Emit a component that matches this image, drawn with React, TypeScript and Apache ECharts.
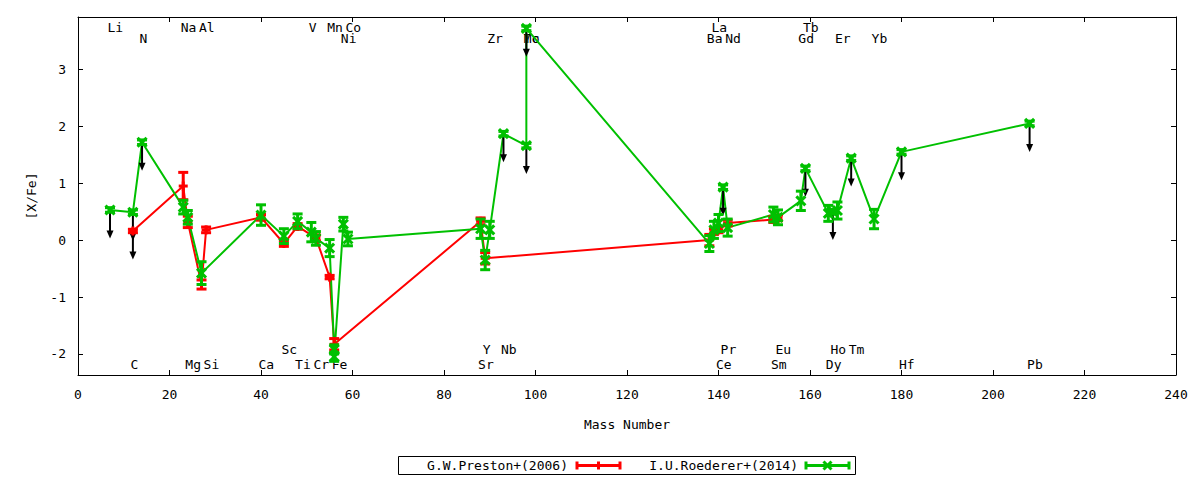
import React, { useEffect, useRef } from "react";
import * as echarts from "echarts";

// ---- Data: G.W.Preston+(2006) ----
const prestonMass = [12, 23, 24, 27, 28, 40, 45, 48, 52, 55, 56, 88, 89, 138, 139, 140, 142, 152, 153];
const prestonXFe = [0.16, 0.95, 0.32, -0.78, 0.18, 0.4, -0.06, 0.24, 0.04, -0.65, -1.83, 0.33, -0.32, 0.0, 0.15, 0.18, 0.3, 0.36, 0.39];
const prestonErr = [0.03, 0.24, 0.1, 0.08, 0.05, 0.05, 0.05, 0.05, 0.05, 0.03, 0.1, 0.06, 0.1, 0.1, 0.05, 0.05, 0.05, 0.05, 0.05];
const prestonLimit = [1, 0, 0, 0, 0, 0, 0, 0, 0, 0, 0, 0, 0, 0, 0, 0, 0, 0, 0];

// ---- Data: I.U.Roederer+(2014) ----
const roedererMass = [7, 12, 14, 23, 24, 27, 40, 45, 48, 51, 52, 55, 56, 56, 58, 59, 88, 89, 90, 93, 98, 98, 138, 139, 140, 141, 142, 152, 153, 158, 159, 164, 165, 166, 169, 174, 180, 208];
const roedererXFe = [0.53, 0.49, 1.72, 0.58, 0.4, -0.58, 0.44, 0.07, 0.33, 0.14, 0.03, -0.14, -1.92, -2.05, 0.28, 0.02, 0.2, -0.35, 0.18, 1.87, 1.66, 3.72, -0.06, 0.18, 0.3, 0.93, 0.22, 0.45, 0.4, 0.69, 1.26, 0.47, 0.5, 0.52, 1.44, 0.37, 1.55, 2.05];
const roedererErr = [0.04, 0.04, 0.04, 0.12, 0.12, 0.2, 0.18, 0.13, 0.13, 0.17, 0.12, 0.15, 0.08, 0.08, 0.12, 0.12, 0.17, 0.17, 0.15, 0.04, 0.04, 0.04, 0.14, 0.15, 0.15, 0.04, 0.15, 0.13, 0.13, 0.17, 0.04, 0.14, 0.04, 0.15, 0.04, 0.17, 0.04, 0.04];
const roedererLimit = [1, 1, 1, 0, 0, 0, 0, 0, 0, 0, 0, 0, 0, 0, 0, 0, 0, 0, 0, 1, 1, 1, 0, 0, 0, 1, 0, 0, 0, 0, 1, 0, 1, 0, 1, 0, 1, 1];

// ---- Element labels ----
const elementNames = ["Li", "C", "N", "Na", "Mg", "Al", "Si", "Ca", "Sc", "Ti", "V", "Cr", "Mn", "Fe", "Co", "Ni", "Sr", "Y", "Zr", "Nb", "Mo", "Tc", "Ba", "La", "Ce", "Pr", "Nd", "Sm", "Eu", "Gd", "Tb", "Dy", "Ho", "Er", "Tm", "Yb", "Hf", "Pb"];
const elementMass = [7, 12, 14, 23, 24, 27, 28, 40, 45, 48, 51, 52, 55, 56, 59, 58, 88, 89, 90, 93, 98, 98, 138, 139, 140, 141, 142, 152, 153, 158, 159, 164, 165, 166, 169, 174, 180, 208];
// label rows (in [X/Fe] units): upper rows 3.73 / 3.55, lower rows -1.92 / -2.18
const elementRowY = [3.73, -2.18, 3.55, 3.73, -2.18, 3.73, -2.18, -2.18, -1.92, -2.18, 3.73, -2.18, 3.73, -2.18, 3.73, 3.55, -2.18, -1.92, 3.55, -1.92, 3.55, 3.55, 3.55, 3.73, -2.18, -1.92, 3.55, -2.18, -1.92, 3.55, 3.73, -2.18, -1.92, 3.55, -1.92, 3.55, -2.18, -2.18];

const xTicks = { min: 0, max: 240, interval: 20 };
const yTickValues = [-2, -1, 0, 1, 2, 3];
const yRange = { min: -2.37, max: 3.92 };
const limitArrowLength = 0.5;

const legendNames = ["G.W.Preston+(2006)", "I.U.Roederer+(2014)"];

const RED = "#ff0000";
const GREEN = "#00c000";
const FONT = "DejaVu Sans Mono";

function errRender(color: string, marker: "plus" | "cross") {
  return (_params: any, api: any) => {
    const x = api.value(0);
    const v = api.value(1);
    const e = api.value(2);
    const c = api.coord([x, v]);
    const t = api.coord([x, v + e]);
    const b = api.coord([x, v - e]);
    const cap = 5;
    const m = 4.5;
    const st = { stroke: color, lineWidth: 3 };
    const children: any[] = [
      { type: "line", shape: { x1: c[0], y1: t[1], x2: c[0], y2: b[1] }, style: st },
      { type: "line", shape: { x1: c[0] - cap, y1: t[1], x2: c[0] + cap, y2: t[1] }, style: st },
      { type: "line", shape: { x1: c[0] - cap, y1: b[1], x2: c[0] + cap, y2: b[1] }, style: st },
    ];
    if (marker === "plus") {
      children.push({ type: "line", shape: { x1: c[0] - m, y1: c[1], x2: c[0] + m, y2: c[1] }, style: st });
      children.push({ type: "line", shape: { x1: c[0], y1: c[1] - m, x2: c[0], y2: c[1] + m }, style: st });
    } else {
      children.push({ type: "line", shape: { x1: c[0] - m, y1: c[1] - m, x2: c[0] + m, y2: c[1] + m }, style: st });
      children.push({ type: "line", shape: { x1: c[0] - m, y1: c[1] + m, x2: c[0] + m, y2: c[1] - m }, style: st });
    }
    return { type: "group", children };
  };
}

function arrowRender(_params: any, api: any) {
  const x = api.value(0);
  const v = api.value(1);
  const a = api.coord([x, v]);
  const b = api.coord([x, v - limitArrowLength]);
  return {
    type: "group",
    children: [
      { type: "line", shape: { x1: a[0], y1: a[1], x2: b[0], y2: b[1] - 6 }, style: { stroke: "#000", lineWidth: 2 } },
      {
        type: "polygon",
        shape: { points: [[b[0] - 3.5, b[1] - 8], [b[0] + 3.5, b[1] - 8], [b[0], b[1]]] },
        style: { fill: "#000" },
      },
    ],
  };
}

function labelRender(_params: any, api: any) {
  const x = api.value(0);
  const y = api.value(1);
  const p = api.coord([x, y]);
  return {
    type: "text",
    x: p[0] - 2.5,
    y: p[1],
    style: {
      text: elementNames[_params.dataIndex],
      textAlign: "left",
      textVerticalAlign: "middle",
      fill: "#000",
      font: `13px '${FONT}'`,
    },
  };
}

function legendGraphic() {
  const y = 465.5;
  const items: any[] = [
    { type: "rect", shape: { x: 398.5, y: 456.5, width: 457, height: 18 }, style: { fill: "none", stroke: "#000", lineWidth: 1 } },
  ];
  const entries = [
    { name: legendNames[0], right: 568, x1: 577, x2: 620, color: RED, marker: "plus" },
    { name: legendNames[1], right: 798, x1: 806, x2: 849, color: GREEN, marker: "cross" },
  ];
  entries.forEach((en) => {
    const st = { stroke: en.color, lineWidth: 3 };
    const mx = (en.x1 + en.x2) / 2;
    items.push({ type: "text", x: en.right, y, style: { text: en.name, textAlign: "right", textVerticalAlign: "middle", fill: "#000", font: `13px '${FONT}'` } });
    items.push({ type: "line", shape: { x1: en.x1, y1: y, x2: en.x2, y2: y }, style: st });
    items.push({ type: "line", shape: { x1: en.x1, y1: y - 4, x2: en.x1, y2: y + 4 }, style: st });
    items.push({ type: "line", shape: { x1: en.x2, y1: y - 4, x2: en.x2, y2: y + 4 }, style: st });
    if (en.marker === "plus") {
      items.push({ type: "line", shape: { x1: mx, y1: y - 4, x2: mx, y2: y + 4 }, style: st });
    } else {
      items.push({ type: "line", shape: { x1: mx - 4, y1: y - 4, x2: mx + 4, y2: y + 4 }, style: st });
      items.push({ type: "line", shape: { x1: mx - 4, y1: y + 4, x2: mx + 4, y2: y - 4 }, style: st });
    }
  });
  return items;
}

export default function App() {
  const ref = useRef<HTMLDivElement>(null);
  useEffect(() => {
    if (!ref.current) return;
    const chart = echarts.init(ref.current, undefined, { renderer: "svg" });

    const redLine = prestonMass.map((m, i) => [m, prestonXFe[i]]);
    const redErr = prestonMass.map((m, i) => [m, prestonXFe[i], prestonErr[i]]);
    const greenLine = roedererMass.map((m, i) => [m, roedererXFe[i]]);
    const greenErr = roedererMass.map((m, i) => [m, roedererXFe[i], roedererErr[i]]);
    const limits = [
      ...prestonMass.map((m, i) => [m, prestonXFe[i], prestonLimit[i]]),
      ...roedererMass.map((m, i) => [m, roedererXFe[i], roedererLimit[i]]),
    ].filter((d) => d[2] === 1);
    const labels = elementMass.map((m, i) => [m, elementRowY[i]]);

    const axisCommon = {
      axisLine: { show: true, onZero: false, lineStyle: { color: "#000", width: 1 } },
      splitLine: { show: false },
    };

    chart.setOption({
      animation: false,
      backgroundColor: "#fff",
      textStyle: { fontFamily: FONT, color: "#000" },
      grid: { left: 78, right: 24, top: 17, bottom: 105, containLabel: false },
      xAxis: [
        {
          type: "value",
          min: xTicks.min,
          max: xTicks.max,
          interval: xTicks.interval,
          position: "bottom",
          ...axisCommon,
          axisTick: { show: true, inside: true, length: 5, lineStyle: { color: "#000" } },
          axisLabel: { color: "#000", fontFamily: FONT, fontSize: 13, margin: 13 },
          name: "Mass Number",
          nameLocation: "middle",
          nameGap: 43,
          nameTextStyle: { color: "#000", fontFamily: FONT, fontSize: 13 },
        },
        {
          type: "value",
          min: xTicks.min,
          max: xTicks.max,
          interval: xTicks.interval,
          position: "top",
          ...axisCommon,
          axisTick: { show: true, inside: true, length: 5, lineStyle: { color: "#000" } },
          axisLabel: { show: false },
        },
      ],
      yAxis: [
        {
          type: "value",
          min: yRange.min,
          max: yRange.max,
          position: "left",
          ...axisCommon,
          axisTick: { show: true, inside: true, length: 5, customValues: yTickValues, lineStyle: { color: "#000" } },
          axisLabel: { color: "#000", fontFamily: FONT, fontSize: 13, margin: 12, customValues: yTickValues },
          name: "[X/Fe]",
          nameLocation: "middle",
          nameGap: 40,
          nameRotate: 90,
          nameTextStyle: { color: "#000", fontFamily: FONT, fontSize: 13 },
        },
        {
          type: "value",
          min: yRange.min,
          max: yRange.max,
          position: "right",
          ...axisCommon,
          axisTick: { show: true, inside: true, length: 5, customValues: yTickValues, lineStyle: { color: "#000" } },
          axisLabel: { show: false, customValues: yTickValues },
        },
      ],
      series: [
        {
          type: "custom",
          name: "labels",
          xAxisIndex: 0,
          yAxisIndex: 0,
          data: labels,
          encode: { x: 0, y: 1 },
          renderItem: labelRender,
          silent: true,
          z: 1,
        },
        {
          type: "line",
          name: legendNames[0],
          data: redLine,
          xAxisIndex: 0,
          yAxisIndex: 0,
          symbol: "none",
          lineStyle: { color: RED, width: 2 },
          z: 2,
        },
        {
          type: "line",
          name: legendNames[1],
          data: greenLine,
          xAxisIndex: 0,
          yAxisIndex: 0,
          symbol: "none",
          lineStyle: { color: GREEN, width: 2 },
          z: 3,
        },
        {
          type: "custom",
          name: "limits",
          xAxisIndex: 0,
          yAxisIndex: 0,
          data: limits,
          encode: { x: 0, y: 1 },
          renderItem: arrowRender,
          z: 4,
        },
        {
          type: "custom",
          name: "preston-err",
          xAxisIndex: 0,
          yAxisIndex: 0,
          data: redErr,
          encode: { x: 0, y: 1 },
          renderItem: errRender(RED, "plus"),
          z: 5,
        },
        {
          type: "custom",
          name: "roederer-err",
          xAxisIndex: 0,
          yAxisIndex: 0,
          data: greenErr,
          encode: { x: 0, y: 1 },
          renderItem: errRender(GREEN, "cross"),
          z: 6,
        },
      ],
      graphic: legendGraphic(),
    });
    return () => chart.dispose();
  }, []);
  return (
    <div
      ref={ref}
      style={{ position: "fixed", left: 0, top: 0, width: 1200, height: 480, background: "#fff" }}
    />
  );
}
